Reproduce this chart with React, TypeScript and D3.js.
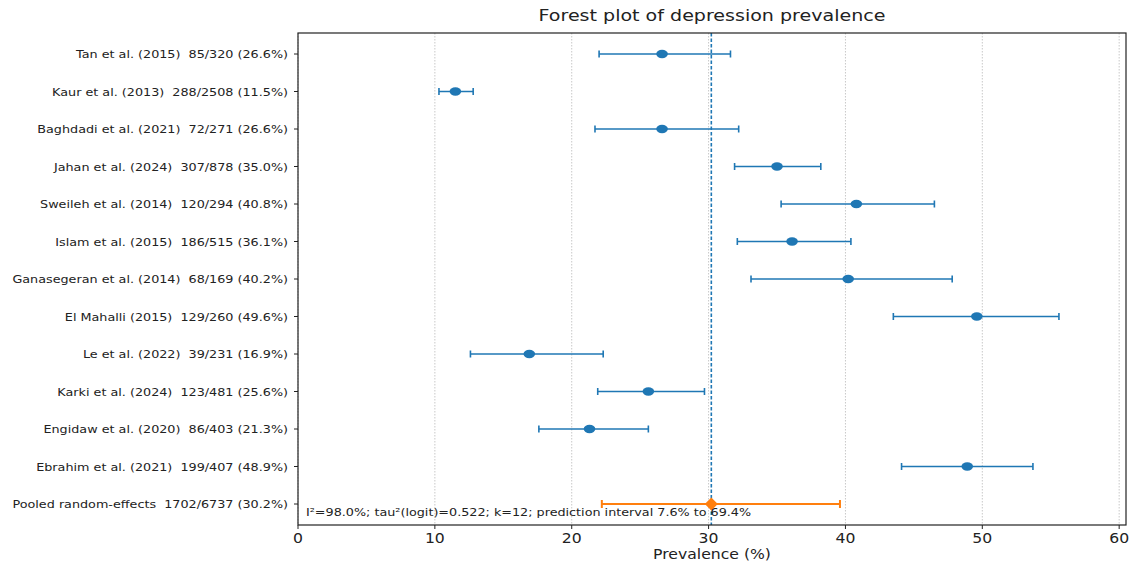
import React from 'react';
import * as d3 from 'd3';

const studies = [
  'Tan et al. (2015)  85/320 (26.6%)',
  'Kaur et al. (2013)  288/2508 (11.5%)',
  'Baghdadi et al. (2021)  72/271 (26.6%)',
  'Jahan et al. (2024)  307/878 (35.0%)',
  'Sweileh et al. (2014)  120/294 (40.8%)',
  'Islam et al. (2015)  186/515 (36.1%)',
  'Ganasegeran et al. (2014)  68/169 (40.2%)',
  'El Mahalli (2015)  129/260 (49.6%)',
  'Le et al. (2022)  39/231 (16.9%)',
  'Karki et al. (2024)  123/481 (25.6%)',
  'Engidaw et al. (2020)  86/403 (21.3%)',
  'Ebrahim et al. (2021)  199/407 (48.9%)',
];
const estimates = [26.6, 11.5, 26.6, 35.0, 40.8, 36.1, 40.2, 49.6, 16.9, 25.6, 21.3, 48.9];
const lowers = [22.0, 10.3, 21.7, 31.9, 35.3, 32.1, 33.1, 43.5, 12.6, 21.9, 17.6, 44.1];
const uppers = [31.6, 12.8, 32.2, 38.2, 46.5, 40.4, 47.8, 55.6, 22.3, 29.7, 25.6, 53.7];

const pooledLabel = 'Pooled random-effects  1702/6737 (30.2%)';
const pooled = { est: 30.2, lo: 22.2, hi: 39.6 };
const xTicks = [0, 10, 20, 30, 40, 50, 60];
const note = 'I²=98.0%; tau²(logit)=0.522; k=12; prediction interval 7.6% to 69.4%';

const W = 1129;
const H = 563;
const margin = { top: 33, right: 3, bottom: 38, left: 298 };
const SX = 1.16; // reference text is slightly stretched horizontally

// text helper with horizontal stretch
const T = ({ x, y, size, anchor = 'start', sx = SX, children }: any) => (
  <g transform={`translate(${x},${y}) scale(${sx},1)`}>
    <text x={0} y={0} fontSize={size} textAnchor={anchor} fill="#222" style={{ whiteSpace: 'pre' }}>{children}</text>
  </g>
);

const App = () => {
  const labels = [...studies, pooledLabel];
  const x = d3.scaleLinear().domain([0, 60.5]).range([margin.left, W - margin.right]);
  const y = d3.scaleLinear().domain([-0.56, labels.length - 0.44]).range([margin.top, H - margin.bottom]);
  const blue = '#1f77b4';
  const orange = '#ff7f0e';
  const font = 'DejaVu Sans, sans-serif';
  const x0 = margin.left;
  const x1 = W - margin.right;
  const y0 = margin.top;
  const y1 = H - margin.bottom;
  const py = y(studies.length);
  const d = 6.5;

  return (
    <svg width={W} height={H} style={{ position: 'absolute', left: 0, top: 0 }} fontFamily={font}>
      <rect width={W} height={H} fill="#fff" />
      {/* grid */}
      {xTicks.map(t => (
        <line key={'g' + t} x1={x(t)} x2={x(t)} y1={y0} y2={y1} stroke="#c8c8c8" strokeWidth={1} strokeDasharray="1.5,1.5" />
      ))}
      {/* pooled estimate reference line */}
      <line x1={x(pooled.est)} x2={x(pooled.est)} y1={y0} y2={y1} stroke={blue} strokeWidth={1.6} strokeDasharray="3.5,2" />
      {/* study CIs */}
      {studies.map((s, i) => (
        <g key={s}>
          <line x1={x(lowers[i])} x2={x(uppers[i])} y1={y(i)} y2={y(i)} stroke={blue} strokeWidth={1.6} />
          <line x1={x(lowers[i])} x2={x(lowers[i])} y1={y(i) - 3.5} y2={y(i) + 3.5} stroke={blue} strokeWidth={1.6} />
          <line x1={x(uppers[i])} x2={x(uppers[i])} y1={y(i) - 3.5} y2={y(i) + 3.5} stroke={blue} strokeWidth={1.6} />
          <ellipse cx={x(estimates[i])} cy={y(i)} rx={5.8} ry={4.2} fill={blue} />
        </g>
      ))}
      {/* pooled */}
      <line x1={x(pooled.lo)} x2={x(pooled.hi)} y1={py} y2={py} stroke={orange} strokeWidth={2} />
      <line x1={x(pooled.lo)} x2={x(pooled.lo)} y1={py - 4} y2={py + 4} stroke={orange} strokeWidth={2} />
      <line x1={x(pooled.hi)} x2={x(pooled.hi)} y1={py - 4} y2={py + 4} stroke={orange} strokeWidth={2} />
      <path d={`M${x(pooled.est) - d},${py} L${x(pooled.est)},${py - d} L${x(pooled.est) + d},${py} L${x(pooled.est)},${py + d} Z`} fill={orange} />
      <T x={x0 + 8} y={y1 - 9} size={11}>{note}</T>
      {/* frame */}
      <rect x={x0} y={y0} width={x1 - x0} height={y1 - y0} fill="none" stroke="#222" strokeWidth={1.2} />
      {/* y axis */}
      {labels.map((l, i) => (
        <g key={'y' + i}>
          <line x1={x0 - 4} x2={x0} y1={y(i)} y2={y(i)} stroke="#222" strokeWidth={1} />
          <T x={x0 - 10} y={y(i) + 4} size={11.2} anchor="end" sx={1.14}>{l}</T>
        </g>
      ))}
      {/* x axis */}
      {xTicks.map(t => (
        <g key={'x' + t}>
          <line x1={x(t)} x2={x(t)} y1={y1} y2={y1 + 4} stroke="#222" strokeWidth={1} />
          <T x={x(t)} y={y1 + 18} size={13.5} anchor="middle">{t}</T>
        </g>
      ))}
      <T x={(x0 + x1) / 2} y={H - 4} size={13.5} anchor="middle">Prevalence (%)</T>
      <T x={(x0 + x1) / 2} y={21} size={16.3} anchor="middle" sx={1.17}>Forest plot of depression prevalence</T>
    </svg>
  );
};

export default App;
